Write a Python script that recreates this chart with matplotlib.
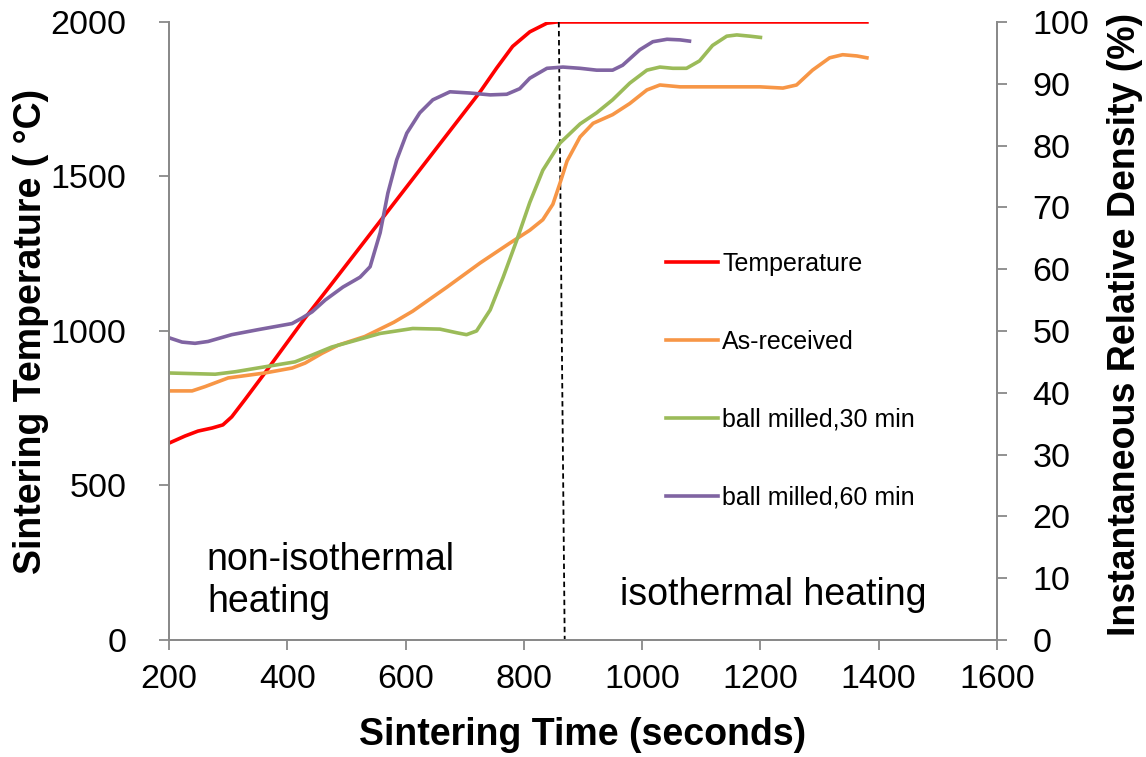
import matplotlib
matplotlib.use("Agg")
import matplotlib.pyplot as plt

plt.rcParams['font.family'] = ['Liberation Sans', 'DejaVu Sans']

# sintering temperature (left axis, °C)
temp_t = [200, 227, 249, 273, 291, 306, 328, 362, 430, 472, 726, 754, 781, 810, 839, 856, 1380]
temp_v = [637, 660, 676, 686, 696, 722, 777, 864, 1042, 1145, 1774, 1851, 1921, 1968, 1996, 2000, 2000]

# instantaneous relative density (right axis, %)
asrec_t = [200, 239, 261, 300, 362, 408, 430, 459, 486, 531, 580, 612, 670, 726, 776, 810,
           832, 849, 861, 873, 895, 917, 950, 979, 1008, 1030, 1064, 1148, 1199, 1238,
           1261, 1288, 1317, 1339, 1363, 1380]
asrec_v = [40.3, 40.3, 41.0, 42.4, 43.2, 44.0, 44.8, 46.4, 47.7, 49.1, 51.4, 53.2, 57.1, 61.0, 64.2, 66.3,
           68.0, 70.5, 73.9, 77.5, 81.4, 83.6, 85.0, 86.8, 89.0, 89.8, 89.5, 89.5, 89.5, 89.3,
           89.8, 92.2, 94.2, 94.7, 94.5, 94.2]

bm30_t = [200, 278, 312, 362, 413, 442, 475, 509, 557, 612, 658, 687, 703, 720, 743, 765,
          788, 810, 832, 861, 895, 923, 950, 979, 1008, 1030, 1052, 1075, 1097, 1119,
          1143, 1160, 1182, 1200]
bm30_v = [43.2, 43.0, 43.4, 44.2, 45.0, 46.1, 47.4, 48.3, 49.6, 50.4, 50.3, 49.7, 49.4, 50.0, 53.4, 58.7,
          64.7, 70.8, 76.0, 80.4, 83.5, 85.3, 87.4, 90.1, 92.2, 92.7, 92.5, 92.5, 93.7, 96.2,
          97.7, 97.9, 97.7, 97.5]

bm60_t = [200, 222, 244, 266, 306, 350, 379, 408, 425, 442, 464, 494, 523, 540, 557, 570,
          585, 602, 624, 646, 675, 709, 743, 771, 793, 810, 839, 866, 895, 923, 950,
          967, 996, 1018, 1042, 1064, 1080]
bm60_v = [48.9, 48.2, 48.0, 48.3, 49.4, 50.2, 50.7, 51.2, 52.1, 53.1, 55.0, 57.1, 58.7, 60.4, 65.9, 72.3,
          77.7, 82.0, 85.3, 87.4, 88.7, 88.5, 88.2, 88.3, 89.2, 90.9, 92.5, 92.7, 92.5, 92.2, 92.2,
          93.0, 95.5, 96.8, 97.2, 97.1, 96.9]

# boundary between non-isothermal and isothermal heating
split_t = [859, 869]
split_v = [2000, 0]

fig = plt.figure(figsize=(11.46, 7.57), dpi=100)
ax = fig.add_axes([0.1475, 0.1546, 0.7225, 0.8164])
ax2 = ax.twinx()

grey = '#898989'
lw = 2.6

l_temp, = ax.plot(temp_t, temp_v, color='#FF0000', lw=lw, label='Temperature')
ax.plot(split_t, split_v, color='black', lw=1.3, ls=(0, (3, 2)))
l_as, = ax2.plot(asrec_t, asrec_v, color='#F79646', lw=lw, label='As-received')
l_30, = ax2.plot(bm30_t, bm30_v, color='#9BBB59', lw=lw, label='ball milled,30 min')
l_60, = ax2.plot(bm60_t, bm60_v, color='#8064A2', lw=lw, label='ball milled,60 min')

ax.set_xlim(200, 1600)
ax.set_ylim(0, 2000)
ax2.set_ylim(0, 100)
ax.set_xticks(range(200, 1601, 200))
ax.set_yticks(range(0, 2001, 500))
ax2.set_yticks(range(0, 101, 10))

for a in (ax, ax2):
    a.spines['top'].set_visible(False)
    for s in ('left', 'right', 'bottom'):
        a.spines[s].set_color(grey)
        a.spines[s].set_linewidth(1.3)
    a.tick_params(labelsize=24.5, color=grey, width=1.3, length=7.5, direction='out')
ax.tick_params(axis='x', pad=10)
ax.tick_params(axis='y', pad=23)
ax2.tick_params(axis='y', pad=18)

ax.set_xlabel('Sintering Time (seconds)', fontsize=27, fontweight='bold')
ax.set_ylabel('Sintering Temperature ( °C)', fontsize=27, fontweight='bold')
ax2.set_ylabel('Instantaneous Relative Density (%)', fontsize=27, fontweight='bold')
ax.xaxis.set_label_coords(0.5, -0.125)
ax.yaxis.set_label_coords(-0.145, 0.50)
ax2.yaxis.set_label_coords(1.133, 0.51)

ax.text(264, 227, 'non-isothermal', fontsize=27, va='baseline', ha='left')
ax.text(264, 91, 'heating', fontsize=27, va='baseline', ha='left')
ax.text(962, 113, 'isothermal heating', fontsize=27, va='baseline', ha='left')

ax2.legend(handles=[l_temp, l_as, l_30, l_60], loc='upper left',
           bbox_to_anchor=(0.573, 0.664), frameon=False, fontsize=18,
           handlelength=2.1, handletextpad=0.15, labelspacing=2.15)

fig.savefig('out.png', dpi=100)
